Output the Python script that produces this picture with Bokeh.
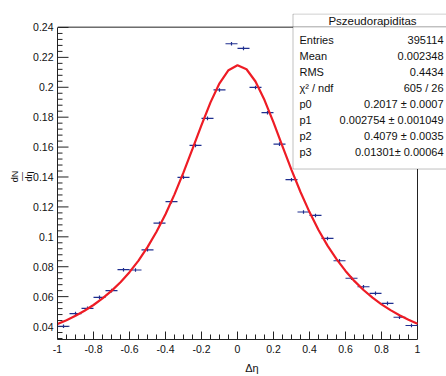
import numpy as np
from bokeh.plotting import figure
from bokeh.models import Range1d, FixedTicker, BoxAnnotation, Label
from bokeh.embed import file_html
from bokeh.resources import INLINE

# ---------------- data ----------------
bin_edges = list(np.linspace(-1.0, 1.0, 31))
counts = [0.0402, 0.0487, 0.0522, 0.0595, 0.0640, 0.0780, 0.0778, 0.0913, 0.1091, 0.1235,
          0.1398, 0.1611, 0.1792, 0.1982, 0.2291, 0.2260, 0.1999, 0.1830, 0.1620, 0.1382,
          0.1166, 0.1143, 0.0989, 0.0840, 0.0723, 0.0666, 0.0622, 0.0555, 0.0462, 0.0407]
count_err = [0.0012] * 30

fit_x = [-1.00, -0.95, -0.90, -0.85, -0.80, -0.75, -0.70, -0.65, -0.60, -0.55, -0.50,
         -0.45, -0.40, -0.35, -0.30, -0.25, -0.20, -0.15, -0.10, -0.05, 0.00,
         0.05, 0.10, 0.15, 0.20, 0.25, 0.30, 0.35, 0.40, 0.45, 0.50,
         0.55, 0.60, 0.65, 0.70, 0.75, 0.80, 0.85, 0.90, 0.95, 1.00]
fit_y = [0.04165, 0.04425, 0.04721, 0.05057, 0.05440, 0.05879, 0.06384, 0.06965, 0.07637, 0.08412, 0.09308,
         0.10338, 0.11514, 0.12841, 0.14306, 0.15875, 0.17475, 0.18990, 0.20268, 0.21139, 0.21470,
         0.21204, 0.20386, 0.19146, 0.17648, 0.16051, 0.14475, 0.12996, 0.11653, 0.10460, 0.09414,
         0.08505, 0.07717, 0.07035, 0.06444, 0.05931, 0.05485, 0.05096, 0.04756, 0.04456, 0.04192]

x_ticks = [-1.0, -0.8, -0.6, -0.4, -0.2, 0.0, 0.2, 0.4, 0.6, 0.8, 1.0]
x_tick_labels = ["-1", "-0.8", "-0.6", "-0.4", "-0.2", "0", "0.2", "0.4", "0.6", "0.8", "1"]
y_ticks = [0.04, 0.06, 0.08, 0.10, 0.12, 0.14, 0.16, 0.18, 0.20, 0.22, 0.24]
y_tick_labels = ["0.04", "0.06", "0.08", "0.1", "0.12", "0.14", "0.16", "0.18", "0.2", "0.22", "0.24"]

stats_title = "Pszeudorapiditas"
stat_names = ["Entries", "Mean", "RMS", "\u03c7\u00b2 / ndf", "p0", "p1", "p2", "p3"]
stat_values = ["395114", "0.002348", "0.4434", "605 / 26", "0.2017 \u00b1 0.0007",
               "0.002754 \u00b1 0.001049", "0.4079 \u00b1 0.0035", "0.01301\u00b1 0.00064"]

# ---------------- geometry helpers (page px -> data) ----------------
PXX, PXY = 180.0, 1500.0          # px per data unit
def dx(px):
    return -1.0 + (px - 57.0) / PXX
def dy(py):
    return 0.04 + (327.0 - py) / PXY

X_LO, X_HI = -1.0, 1.0            # histogram axis extent
Y_LO, Y_HI = dy(340.0), dy(26.7)  # histogram axis extent
X0, X1 = X_LO, dx(446.0)          # plotting frame extends under the stats box
Y0, Y1 = Y_LO, dy(13.0)

W, H = 446, 376
p = figure(width=W, height=H, x_range=Range1d(X0, X1), y_range=Range1d(Y0, Y1),
           output_backend="svg", toolbar_location=None,
           min_border_left=57, min_border_right=0, min_border_top=13, min_border_bottom=36)
p.outline_line_color = None
p.xgrid.visible = False
p.ygrid.visible = False
p.background_fill_color = "white"
p.border_fill_color = "white"

FONT = "Liberation Sans"
AXC = "#222222"
TXT = "#111111"

minor_x = [float(v) for v in np.round(np.arange(-1.0, 1.0001, 0.05), 3) if abs(round(v / 0.2) * 0.2 - v) > 1e-6]
minor_y = [float(v) for v in np.round(np.arange(0.032, 0.2401, 0.004), 4) if abs(round(v / 0.02) * 0.02 - v) > 1e-6]

xa = p.xaxis[0]
xa.ticker = FixedTicker(ticks=x_ticks)
xa.major_label_overrides = dict(zip(x_ticks, x_tick_labels))
xa.bounds = (X_LO, X_HI)
ya = p.yaxis[0]
ya.ticker = FixedTicker(ticks=y_ticks)
ya.major_label_overrides = dict(zip(y_ticks, y_tick_labels))
ya.bounds = (Y_LO, Y_HI)
for ax, so in ((xa, 5), (ya, 4)):
    ax.major_tick_in = 0
    ax.major_tick_out = 0
    ax.minor_tick_in = 0
    ax.minor_tick_out = 0
    ax.major_tick_line_color = None
    ax.minor_tick_line_color = None
    ax.axis_line_color = AXC
    ax.major_label_text_font = FONT
    ax.major_label_text_font_size = "10.5px"
    ax.major_label_text_color = TXT
    ax.major_label_standoff = so
    ax.axis_label_text_font = FONT
    ax.axis_label_text_font_style = "normal"
    ax.axis_label_text_color = TXT

xa.axis_label = "\u0394\u03b7"
xa.axis_label_text_font_size = "11px"
xa.axis_label_standoff = 6
ya.axis_label = "dN\n\u2014\nd\u03b7"
ya.axis_label_text_font_size = "9px"
ya.axis_label_text_line_height = 0.7
ya.axis_label_standoff = -4

# frame lines (top / right) and inward ticks
p.segment(x0=[X_LO, X_HI], x1=[X_HI, X_HI], y0=[Y_HI, Y_LO], y1=[Y_HI, Y_HI],
          line_color=AXC, line_width=1)
p.segment(x0=x_ticks, x1=x_ticks, y0=[Y_LO] * len(x_ticks), y1=[Y_LO + 8 / PXY] * len(x_ticks),
          line_color=AXC, line_width=1)
p.segment(x0=minor_x, x1=minor_x, y0=[Y_LO] * len(minor_x), y1=[Y_LO + 5 / PXY] * len(minor_x),
          line_color=AXC, line_width=1)
p.segment(x0=[X_LO] * len(y_ticks), x1=[X_LO + 11 / PXX] * len(y_ticks), y0=y_ticks, y1=y_ticks,
          line_color=AXC, line_width=1)
p.segment(x0=[X_LO] * len(minor_y), x1=[X_LO + 5 / PXX] * len(minor_y), y0=minor_y, y1=minor_y,
          line_color=AXC, line_width=1)

# ---------------- histogram points ----------------
lo = bin_edges[:-1]
hi = bin_edges[1:]
centers = [(a + b) / 2 for a, b in zip(lo, hi)]
PT = "#1f2f8f"
p.segment(x0=lo, x1=hi, y0=counts, y1=counts, line_color=PT, line_width=1.2)
p.segment(x0=centers, x1=centers,
          y0=[c - e for c, e in zip(counts, count_err)],
          y1=[c + e for c, e in zip(counts, count_err)], line_color=PT, line_width=1.2)

# ---------------- fit curve ----------------
p.line(fit_x, fit_y, line_color="#ee1c25", line_width=2.2)

# ---------------- stats box ----------------
BL, BR, BT, BS, BB = 292.5, 452, 13.5, 26.5, 169
p.add_layout(BoxAnnotation(left=dx(BL), right=dx(BR), top=dy(BT), bottom=dy(BS),
                           fill_color="white", fill_alpha=1.0, line_color="#333333", line_width=1))
p.add_layout(BoxAnnotation(left=dx(BL), right=dx(BR), top=dy(BS), bottom=dy(BB),
                           fill_color="white", fill_alpha=1.0, line_color="#333333", line_width=1))
p.add_layout(Label(x=dx(372), y=dy(20.5), text=stats_title, text_font=FONT,
                   text_font_size="11.5px", text_align="center", text_baseline="middle",
                   text_color=TXT))
row0, drow = 40.0, 16.0
for i, (nm, val) in enumerate(zip(stat_names, stat_values)):
    yy = dy(row0 + i * drow)
    p.add_layout(Label(x=dx(299), y=yy, text=nm, text_font=FONT, text_font_size="11px",
                       text_align="left", text_baseline="middle", text_color=TXT))
    p.add_layout(Label(x=dx(443), y=yy, text=val, text_font=FONT, text_font_size="11px",
                       text_align="right", text_baseline="middle", text_color=TXT))

open("out.html", "w").write(file_html(p, INLINE))
